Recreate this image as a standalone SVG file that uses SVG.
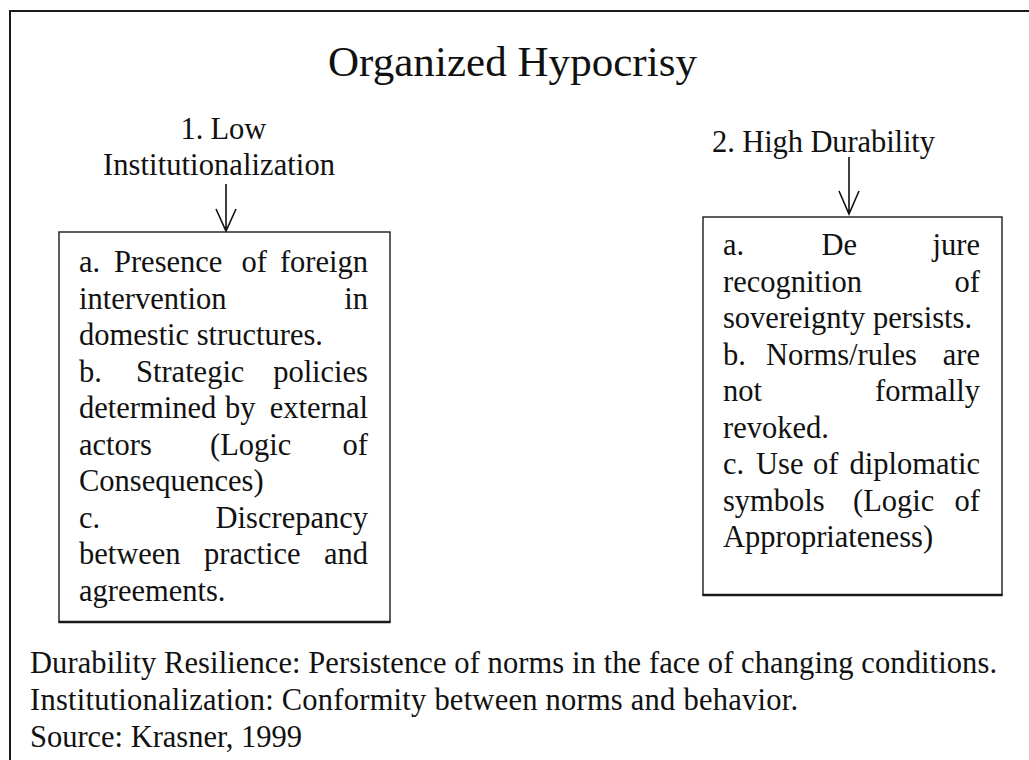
<svg xmlns="http://www.w3.org/2000/svg" width="1029" height="760" viewBox="0 0 1029 760" font-family="'Liberation Serif', 'DejaVu Serif', serif">
  <style>
    text { font-family: 'Liberation Serif', 'DejaVu Serif', serif; fill: #111; }
    .title { font-size: 43px; }
    .head { font-size: 30.5px; }
    .body { font-size: 30.5px; }
    .note { font-size: 30.5px; }
    .end { text-anchor: end; }
    .mid { text-anchor: middle; }
    .frame { fill: none; stroke: #1a1a1a; stroke-width: 2; }
    .box { fill: #fff; stroke: #1a1a1a; stroke-width: 1.4; }
    .boxbase { stroke: #1a1a1a; stroke-width: 2.6; }
    .conn { fill: none; stroke: #111; stroke-width: 1.6; }
  </style>

  <rect width="1029" height="760" fill="#fff"/>

  <!-- page frame: top rule and left rule -->
  <g id="frame">
    <path class="frame" d="M9,11 H1029 M10,10 V760"/>
  </g>

  <g id="title">
    <text class="title mid" x="512.5" y="76" textLength="369" lengthAdjust="spacing">Organized Hypocrisy</text>
  </g>

  <g id="header-low">
    <text class="head mid" x="223.5" y="139"><tspan>1.</tspan><tspan dx="7">Low</tspan></text>
    <text class="head mid" x="219" y="175" textLength="232" lengthAdjust="spacing">Institutionalization</text>
  </g>

  <g id="header-high">
    <text class="head mid" x="823.5" y="152" textLength="223" lengthAdjust="spacing">2. High Durability</text>
  </g>

  <g id="connectors">
    <path class="conn" d="M226,184 V231 M216,209 L226,231 L236,209"/>
    <path class="conn" d="M849,157 V214 M839,191 L849,214 L859,191"/>
  </g>

  <!-- left box: justified list -->
  <g id="box-low">
    <rect class="box" x="59" y="232" width="331" height="390"/>
    <path class="boxbase" d="M58.5,622 H390.5"/>
    <text class="body" x="79" y="272">a.</text>
    <text class="body" x="114" y="272">Presence</text>
    <text class="body" x="241.5" y="272">of</text>
    <text class="body end" x="368" y="272">foreign</text>

    <text class="body" x="79" y="308.5">intervention</text>
    <text class="body end" x="368" y="308.5">in</text>

    <text class="body" x="79" y="345">domestic structures.</text>

    <text class="body" x="79" y="381.5">b.</text>
    <text class="body" x="136" y="381.5">Strategic</text>
    <text class="body end" x="368" y="381.5">policies</text>

    <text class="body" x="79" y="418">determined</text>
    <text class="body" x="225" y="418">by</text>
    <text class="body end" x="368" y="418">external</text>

    <text class="body" x="79" y="454.5">actors</text>
    <text class="body" x="210" y="454.5">(Logic</text>
    <text class="body end" x="368" y="454.5">of</text>

    <text class="body" x="79" y="491">Consequences)</text>

    <text class="body" x="79" y="527.5">c.</text>
    <text class="body end" x="368" y="527.5">Discrepancy</text>

    <text class="body" x="79" y="564">between</text>
    <text class="body" x="204" y="564">practice</text>
    <text class="body end" x="368" y="564">and</text>

    <text class="body" x="79" y="600.5">agreements.</text>
  </g>

  <!-- right box: justified list -->
  <g id="box-high">
    <rect class="box" x="703" y="217" width="299" height="378"/>
    <path class="boxbase" d="M702.5,595 H1002.5"/>
    <text class="body" x="723" y="255">a.</text>
    <text class="body" x="821.5" y="255">De</text>
    <text class="body end" x="980" y="255">jure</text>

    <text class="body" x="723" y="291.5">recognition</text>
    <text class="body end" x="980" y="291.5">of</text>

    <text class="body" x="723" y="328">sovereignty persists.</text>

    <text class="body" x="723" y="364.5">b.</text>
    <text class="body" x="766" y="364.5">Norms/rules</text>
    <text class="body end" x="980" y="364.5">are</text>

    <text class="body" x="723" y="401">not</text>
    <text class="body end" x="980" y="401">formally</text>

    <text class="body" x="723" y="437.5">revoked.</text>

    <text class="body" x="723" y="474">c.</text>
    <text class="body" x="756" y="474">Use</text>
    <text class="body" x="813" y="474">of</text>
    <text class="body end" x="980" y="474">diplomatic</text>

    <text class="body" x="723" y="510.5">symbols</text>
    <text class="body" x="853" y="510.5">(Logic</text>
    <text class="body end" x="980" y="510.5">of</text>

    <text class="body" x="723" y="547">Appropriateness)</text>
  </g>

  <g id="notes">
    <text class="note" x="30" y="673" textLength="967" lengthAdjust="spacing">Durability Resilience: Persistence of norms in the face of changing conditions.</text>
    <text class="note" x="30" y="710" textLength="768" lengthAdjust="spacing">Institutionalization: Conformity between norms and behavior.</text>
    <text class="note" x="30" y="747" textLength="272" lengthAdjust="spacing">Source: Krasner, 1999</text>
  </g>
</svg>
